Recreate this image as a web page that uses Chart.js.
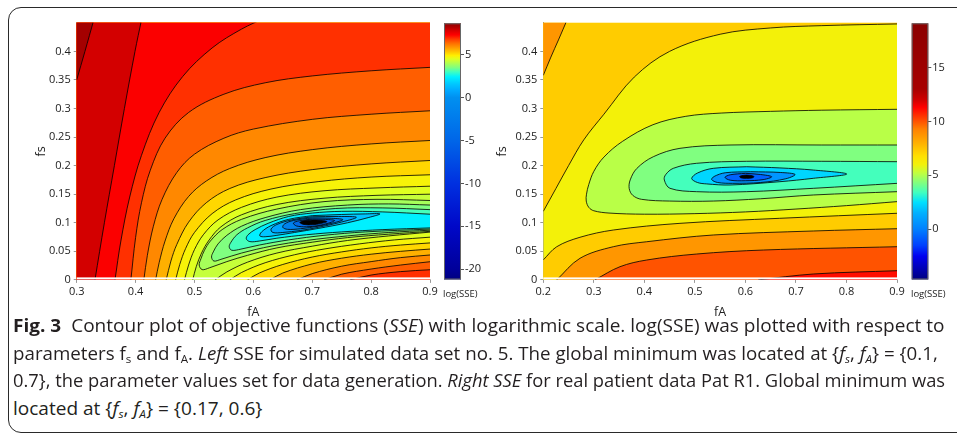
<!DOCTYPE html>
<html>
<head>
<meta charset="utf-8">
<script src="https://cdn.jsdelivr.net/npm/chart.js@4.4.1/dist/chart.umd.min.js"></script>
<style>
  body { margin: 0; background: #fff; width: 957px; height: 433px; overflow: hidden; position: relative; font-family: "Open Sans", sans-serif; }
  .frame { position: absolute; left: 8px; top: 7px; width: 1000px; height: 426px; border: 1.3px solid #2a2a2a; border-radius: 13px 0 0 13px; box-sizing: border-box; }
  canvas { position: absolute; top: 0; }
  .cbt { position: absolute; font-size: 9.5px; color: #222; white-space: nowrap; }
  .cap { position: absolute; left: 13px; white-space: nowrap; font-size: 18.5px; line-height: 27.5px; color: #231f20; transform-origin: 0 0; }
  .cap sub { font-size: 0.62em; vertical-align: -0.28em; line-height: 0; }
</style>
</head>
<body>
<div class="frame"></div>
<canvas id="leftPlot" width="440" height="320" style="left:0"></canvas>
<canvas id="leftBar" width="50" height="290" style="left:440px"></canvas>
<canvas id="rightPlot" width="440" height="320" style="left:480px"></canvas>
<canvas id="rightBar" width="52" height="290" style="left:905px"></canvas>
<div class="cbt" style="left:443px;top:287px">log(SSE)</div>
<div class="cbt" style="left:911px;top:287px">log(SSE)</div>
<div class="cap" data-w="932" style="top:311px"><b>Fig. 3</b>&nbsp; Contour plot of objective functions (<i>SSE</i>) with logarithmic scale. log(SSE) was plotted with respect to</div>
<div class="cap" data-w="925" style="top:338.5px">parameters f<sub>s</sub> and f<sub>A</sub>. <i>Left</i> SSE for simulated data set no. 5. The global minimum was located at {<i>f<sub>s</sub></i>, <i>f<sub>A</sub></i>} = {0.1,</div>
<div class="cap" data-w="932" style="top:366px">0.7}, the parameter values set for data generation. <i>Right SSE</i> for real patient data Pat R1. Global minimum was</div>
<div class="cap" data-w="249" style="top:393.5px">located at {<i>f<sub>s</sub></i>, <i>f<sub>A</sub></i>} = {0.17, 0.6}</div>
<script>
'use strict';

// axis ticks
const leftXTicks = [0.3, 0.4, 0.5, 0.6, 0.7, 0.8, 0.9];
const rightXTicks = [0.2, 0.3, 0.4, 0.5, 0.6, 0.7, 0.8, 0.9];
const fsTicks = [0, 0.05, 0.1, 0.15, 0.2, 0.25, 0.3, 0.35, 0.4];
const leftBarTicks = [-20, -15, -10, -5, 0, 5];
const rightBarTicks = [0, 5, 10, 15];

// colour scales, [log(SSE), colour]
const leftColormap = [[-21.2,'#000080'],[-20,'#00009a'],[-15,'#0008c8'],[-10,'#0030e0'],[-5,'#0066e8'],[0,'#0090f0'],[0.8,'#00a8ff'],[1.6,'#00c8ff'],[2.4,'#00f0ff'],[3.0,'#40ffc0'],[3.5,'#80ff80'],[4.0,'#b0ff50'],[4.5,'#e0ff20'],[4.9,'#ffef00'],[5.3,'#ffc800'],[5.8,'#ff9c00'],[6.3,'#ff7000'],[6.8,'#ff3c00'],[7.3,'#ff0000'],[7.8,'#d80000'],[8.2,'#b00000'],[8.65,'#900000']];
const rightColormap = [[-4.66,'#000080'],[-2.5,'#0000f0'],[-1.5,'#0040ff'],[0,'#0080ff'],[1.5,'#00b0ff'],[2.5,'#00e0ff'],[3.4,'#40ffc0'],[4.3,'#80ff80'],[5.2,'#c0ff40'],[6.0,'#f2f20a'],[6.8,'#ffe000'],[8.0,'#ffb000'],[9.3,'#ff8000'],[10.3,'#ff4000'],[11.3,'#ff0000'],[12.0,'#d00000'],[13.0,'#a80000'],[19.1,'#8b0000']];

// left panel contour lines, [fA, fs]
const leftA = [[0.3,0.35],[0.314,0.40],[0.329,0.455]];
const leftB = [[0.331,0],[0.347,0.1],[0.364,0.2],[0.381,0.3],[0.399,0.4],[0.41,0.455]];
const leftC = [[0.365,0],[0.375,0.068],[0.39,0.145],[0.41,0.218],[0.44,0.293],[0.48,0.356],[0.53,0.406],[0.58,0.439],[0.62,0.4585]];
const leftD = [[0.392,0],[0.40,0.074],[0.41,0.135],[0.425,0.192],[0.45,0.248],[0.49,0.293],[0.55,0.325],[0.62,0.345],[0.7,0.357],[0.8,0.366],[0.9,0.372]];
const leftE = [[0.414,0],[0.42,0.043],[0.43,0.093],[0.445,0.141],[0.47,0.188],[0.5,0.22],[0.55,0.248],[0.6,0.264],[0.7,0.281],[0.8,0.29],[0.9,0.296]];
const leftF = [[0.434,0],[0.44,0.03],[0.45,0.068],[0.465,0.107],[0.49,0.146],[0.52,0.173],[0.56,0.195],[0.62,0.214],[0.7,0.228],[0.8,0.238],[0.9,0.244]];
const leftG = [[0.452,0],[0.46,0.033],[0.47,0.062],[0.49,0.101],[0.52,0.135],[0.56,0.16],[0.62,0.179],[0.7,0.193],[0.8,0.203],[0.9,0.209]];
const leftH = [[0.468,0],[0.475,0.027],[0.485,0.055],[0.5,0.083],[0.53,0.116],[0.57,0.14],[0.63,0.159],[0.71,0.172],[0.8,0.18],[0.9,0.184]];
const leftI = [[0.483,0],[0.49,0.026],[0.5,0.053],[0.515,0.079],[0.54,0.105],[0.58,0.127],[0.64,0.145],[0.72,0.156],[0.81,0.161],[0.9,0.164]];
const leftJ = [[0.497,0],[0.503,0.023],[0.512,0.047],[0.525,0.07],[0.545,0.093],[0.58,0.114],[0.64,0.132],[0.72,0.143],[0.81,0.148],[0.9,0.15]];
const leftJb = [[0.535,0],[0.555,0.014],[0.59,0.031],[0.64,0.047],[0.7,0.059],[0.76,0.069],[0.83,0.077],[0.9,0.0836]];
const leftIb = [[0.56,0],[0.58,0.013],[0.62,0.03],[0.67,0.044],[0.72,0.054],[0.78,0.063],[0.84,0.07],[0.9,0.0748]];
const leftHb = [[0.59,0],[0.61,0.012],[0.65,0.027],[0.7,0.04],[0.75,0.049],[0.8,0.056],[0.85,0.061],[0.9,0.0647]];
const leftGb = [[0.628,0],[0.65,0.012],[0.7,0.028],[0.75,0.038],[0.8,0.045],[0.85,0.05],[0.9,0.054]];
const leftFb = [[0.674,0],[0.7,0.011],[0.75,0.024],[0.8,0.032],[0.85,0.039],[0.9,0.0436]];
const leftEb = [[0.72,0],[0.75,0.01],[0.8,0.019],[0.85,0.026],[0.9,0.0318]];
const leftDb = [[0.764,0],[0.8,0.0085],[0.85,0.0145],[0.9,0.0178]];
const leftK = [[0.9,0.139],[0.81,0.141],[0.72,0.137],[0.64,0.124],[0.58,0.106],[0.547,0.088],[0.527,0.068],[0.517,0.052],[0.511,0.037],[0.508,0.026],[0.513,0.018],[0.525,0.021],[0.555,0.032],[0.59,0.043],[0.64,0.056],[0.7,0.066],[0.76,0.074],[0.83,0.08],[0.9,0.085]];
const leftL = [[0.9,0.131],[0.83,0.133],[0.76,0.131],[0.68,0.123],[0.62,0.109],[0.58,0.094],[0.555,0.078],[0.54,0.063],[0.532,0.049],[0.529,0.04],[0.533,0.033],[0.545,0.036],[0.58,0.047],[0.63,0.059],[0.69,0.069],[0.76,0.077],[0.83,0.083],[0.9,0.087]];
const leftM = [[0.9,0.123],[0.82,0.126],[0.74,0.125],[0.67,0.116],[0.62,0.104],[0.59,0.091],[0.572,0.079],[0.562,0.066],[0.559,0.058],[0.563,0.052],[0.575,0.053],[0.61,0.061],[0.66,0.07],[0.72,0.078],[0.79,0.084],[0.9,0.089]];
const leftN = [[0.9,0.115],[0.82,0.119],[0.75,0.12],[0.70,0.117],[0.66,0.111],[0.625,0.099],[0.603,0.088],[0.591,0.079],[0.588,0.072],[0.594,0.067],[0.61,0.068],[0.64,0.073],[0.69,0.079],[0.75,0.084],[0.82,0.088],[0.9,0.091]];
const leftO = [[0.70,0.1125],[0.66,0.106],[0.63,0.095],[0.614,0.084],[0.611,0.077],[0.62,0.0755],[0.64,0.078],[0.67,0.083],[0.71,0.09],[0.76,0.1],[0.795,0.109],[0.815,0.1155],[0.79,0.1155],[0.75,0.1145],[0.70,0.1125]];
const leftP = [[0.70,0.1105],[0.665,0.105],[0.64,0.097],[0.63,0.089],[0.633,0.083],[0.65,0.083],[0.68,0.0865],[0.71,0.092],[0.745,0.1],[0.775,0.1095],[0.745,0.111],[0.70,0.1105]];
const leftQ = [[0.70,0.1085],[0.668,0.104],[0.653,0.098],[0.65,0.092],[0.658,0.0885],[0.68,0.0895],[0.71,0.094],[0.735,0.0995],[0.752,0.1055],[0.73,0.108],[0.70,0.1085]];
const leftR = [[0.70,0.1065],[0.678,0.1035],[0.668,0.0995],[0.673,0.0945],[0.69,0.093],[0.71,0.095],[0.728,0.0995],[0.738,0.104],[0.72,0.106],[0.70,0.1065]];
const leftCore = [[0.70,0.105],[0.686,0.1035],[0.679,0.1005],[0.686,0.097],[0.70,0.0965],[0.714,0.0985],[0.725,0.102],[0.714,0.1045],[0.70,0.105]];

// right panel contour lines, [fA, fs]
const rightR1 = [[0.2,0.358],[0.215,0.39],[0.23,0.42],[0.247,0.455]];
const rightR2 = [[0.2,0.12],[0.225,0.16],[0.25,0.2],[0.28,0.245],[0.32,0.29],[0.38,0.355],[0.45,0.4],[0.55,0.43],[0.65,0.441],[0.75,0.445],[0.9,0.448]];
const rightY1 = [[0.2,0.035],[0.2265,0.058],[0.2726,0.0746],[0.3385,0.0873],[0.4705,0.099],[0.668,0.1078],[0.9,0.1166]];
const rightY2 = [[0.2265,0],[0.2726,0.0378],[0.3385,0.0581],[0.4046,0.0668],[0.5364,0.0786],[0.7343,0.0856],[0.9,0.0896]];
const rightY3 = [[0.302,0],[0.3518,0.0231],[0.4046,0.0348],[0.5035,0.0453],[0.6354,0.0523],[0.9,0.0581]];
const rightY4 = [[0.6254,0],[0.7343,0.0103],[0.9,0.0161]];
const rightR3 = [[0.9,0.2986],[0.75,0.297],[0.65,0.295],[0.552,0.292],[0.482,0.2863],[0.417,0.2716],[0.357,0.2426],[0.32,0.215],[0.30,0.19],[0.29,0.167],[0.2855,0.15],[0.285,0.138],[0.29,0.127],[0.30,0.121],[0.33,0.117],[0.40,0.115],[0.5,0.116],[0.6,0.119],[0.7,0.124],[0.8,0.13],[0.9,0.137]];
const rightR4 = [[0.9,0.2361],[0.75,0.2361],[0.5695,0.2361],[0.4705,0.2303],[0.4177,0.2156],[0.385,0.195],[0.372,0.175],[0.37,0.16],[0.377,0.148],[0.3946,0.141],[0.45,0.138],[0.5364,0.138],[0.63,0.142],[0.7343,0.1486],[0.9,0.1544]];
const rightR5 = [[0.9,0.2069],[0.75,0.2076],[0.6025,0.2076],[0.5035,0.2041],[0.4573,0.1953],[0.442,0.184],[0.4395,0.1748],[0.4507,0.1603],[0.5035,0.1544],[0.6025,0.1544],[0.7343,0.1603],[0.9,0.169]];
const rightR6 = [[0.6025,0.1981],[0.5364,0.1953],[0.505,0.187],[0.4937,0.1775],[0.505,0.1705],[0.5233,0.168],[0.5694,0.1661],[0.6683,0.1719],[0.7343,0.1778],[0.8005,0.1853],[0.7343,0.1923],[0.6683,0.196],[0.6025,0.1981]];
const rightR7 = [[0.61,0.1894],[0.56,0.1875],[0.538,0.181],[0.5333,0.1755],[0.545,0.1705],[0.575,0.169],[0.63,0.1705],[0.68,0.177],[0.6982,0.1845],[0.67,0.188],[0.61,0.1894]];
const rightR8 = [[0.60,0.1865],[0.57,0.184],[0.5596,0.1795],[0.57,0.1745],[0.60,0.1735],[0.635,0.1755],[0.652,0.1805],[0.63,0.1845],[0.60,0.1865]];
const rightCore = [[0.6025,0.1835],[0.592,0.1825],[0.5885,0.1806],[0.592,0.1785],[0.6025,0.1778],[0.613,0.1785],[0.617,0.1806],[0.613,0.1825],[0.6025,0.1835]];

// which side of each line is higher; levels are log(SSE)
const leftContours = [
  {pts: leftA, level: 8.1, side: 'upper'}, {pts: leftB, level: 7.6, side: 'upper'},
  {pts: leftC, level: 7.1, side: 'upper'}, {pts: leftD, level: 6.7, side: 'upper'},
  {pts: leftE, level: 6.25, side: 'upper'}, {pts: leftF, level: 5.8, side: 'upper'},
  {pts: leftG, level: 5.35, side: 'upper'}, {pts: leftH, level: 4.95, side: 'upper'},
  {pts: leftI, level: 4.65, side: 'upper'}, {pts: leftJ, level: 4.35, side: 'upper'},
  {pts: leftDb, level: 6.7, side: 'lower'}, {pts: leftEb, level: 6.25, side: 'lower'},
  {pts: leftFb, level: 5.8, side: 'lower'}, {pts: leftGb, level: 5.35, side: 'lower'},
  {pts: leftHb, level: 4.95, side: 'lower'}, {pts: leftIb, level: 4.65, side: 'lower'},
  {pts: leftJb, level: 4.35, side: 'lower'},
  {pts: leftK, level: 4.1, side: 'inside'}, {pts: leftL, level: 3.7, side: 'inside'},
  {pts: leftM, level: 3.3, side: 'inside'}, {pts: leftN, level: 2.8, side: 'inside'},
  {pts: leftO, level: 2.0, side: 'inside'}, {pts: leftP, level: 1.0, side: 'inside'},
  {pts: leftQ, level: 0.4, side: 'inside'}, {pts: leftR, level: -4, side: 'inside'},
  {pts: leftCore, level: -21, side: 'core'}
];
const rightContours = [
  {pts: rightR1, level: 8.0, side: 'upper'}, {pts: rightR2, level: 6.6, side: 'upper'},
  {pts: rightY1, level: 6.6, side: 'lower'}, {pts: rightY2, level: 8.0, side: 'lower'},
  {pts: rightY3, level: 9.4, side: 'lower'}, {pts: rightY4, level: 10.6, side: 'lower'},
  {pts: rightR3, level: 5.5, side: 'inside'}, {pts: rightR4, level: 4.7, side: 'inside'},
  {pts: rightR5, level: 3.9, side: 'inside'}, {pts: rightR6, level: 3.0, side: 'inside'},
  {pts: rightR7, level: 1.6, side: 'inside'}, {pts: rightR8, level: -0.2, side: 'inside'},
  {pts: rightCore, level: -4, side: 'core'}
];

Chart.defaults.font.family = '"Open Sans", sans-serif';
Chart.defaults.color = '#222';

function hexToRgb(h) {
  const n = parseInt(h.slice(1), 16);
  return [n >> 16, (n >> 8) & 255, n & 255];
}

function colorAt(map, v) {
  if (v <= map[0][0]) return map[0][1];
  for (let i = 1; i < map.length; i++) {
    if (v <= map[i][0]) {
      const t = (v - map[i - 1][0]) / (map[i][0] - map[i - 1][0]);
      const a = hexToRgb(map[i - 1][1]), b = hexToRgb(map[i][1]);
      return 'rgb(' + a.map((c, k) => Math.round(c + (b[k] - c) * t)).join(',') + ')';
    }
  }
  return map[map.length - 1][1];
}

// build the filled bands: painted high sides first (lowest level first), then the nested insides
function buildRegions(contours, cmap, cap, box) {
  const levels = [...new Set(contours.filter(c => c.side !== 'core').map(c => c.level))].sort((a, b) => a - b);
  const above = l => { const i = levels.indexOf(l); return i < levels.length - 1 ? levels[i + 1] : cap; };
  const below = l => { const i = levels.indexOf(l); return i > 0 ? levels[i - 1] : l - 1; };
  const d = 0.01, eps = 1e-6;
  const {xMin, xMax, yMin, yMax} = box;
  const outer = [], inner = [];

  contours.forEach((c, index) => {
    const s = c.pts[0], e = c.pts[c.pts.length - 1];
    const onRight = e[0] >= xMax - eps;
    const corners = [];
    if (c.side === 'upper') {
      if (onRight) corners.push([xMax + d, e[1]], [xMax + d, yMax + d]);
      else corners.push([e[0], yMax + d]);
      corners.push([xMin - d, yMax + d]);
      if (s[1] <= yMin + eps) corners.push([xMin - d, yMin - d], [s[0], yMin - d]);
      else corners.push([xMin - d, s[1]]);
      outer.push({index, corners, level: c.level, color: colorAt(cmap, (c.level + above(c.level)) / 2)});
    } else if (c.side === 'lower') {
      corners.push([xMax + d, e[1]], [xMax + d, yMin - d]);
      if (s[1] <= yMin + eps) corners.push([s[0], yMin - d]);
      else corners.push([xMin - d, yMin - d], [xMin - d, s[1]]);
      outer.push({index, corners, level: c.level, color: colorAt(cmap, (c.level + above(c.level)) / 2)});
    } else {
      if (onRight && s[0] >= xMax - eps) corners.push([xMax + d, e[1]], [xMax + d, s[1]]);
      const color = c.side === 'core' ? '#000' : colorAt(cmap, (c.level + below(c.level)) / 2);
      inner.push({index, corners, level: c.level, color});
    }
  });
  outer.sort((a, b) => a.level - b.level);
  inner.sort((a, b) => b.level - a.level);

  const insideTop = Math.max(...contours.filter(c => c.side === 'inside').map(c => c.level));
  const outerLow = Math.min(...contours.filter(c => c.side === 'upper' || c.side === 'lower').map(c => c.level));
  return {background: colorAt(cmap, (insideTop + outerLow) / 2), regions: outer.concat(inner)};
}

function contourFillPlugin(fills) {
  return {
    id: 'contourFill',
    beforeDatasetsDraw(chart) {
      const {ctx, chartArea: a, scales: {x, y}} = chart;
      ctx.save();
      ctx.beginPath();
      ctx.rect(a.left, a.top, a.width, a.height);
      ctx.clip();
      ctx.fillStyle = fills.background;
      ctx.fillRect(a.left, a.top, a.width, a.height);
      for (const r of fills.regions) {
        const line = chart.getDatasetMeta(r.index).dataset;
        line.updateControlPoints(a, 'x');
        ctx.beginPath();
        line.path(ctx);
        for (const [cx, cy] of r.corners) ctx.lineTo(x.getPixelForValue(cx), y.getPixelForValue(cy));
        ctx.closePath();
        ctx.fillStyle = r.color;
        ctx.fill();
      }
      ctx.restore();
    },
    afterDatasetsDraw(chart) {
      // thin white strip between the image and the bottom axis
      const {ctx, chartArea: a} = chart;
      ctx.save();
      ctx.fillStyle = '#fff';
      ctx.fillRect(a.left, a.bottom - 2.5, a.width + 1, 2);
      ctx.restore();
    }
  };
}

function drawContourPlot(id, contours, cmap, cap, xTicks, xRange, pad, yWidth) {
  const box = {xMin: xRange[0], xMax: xRange[1], yMin: 0, yMax: 0.45};
  const fills = buildRegions(contours, cmap, cap, box);
  const tickFont = {size: 11};
  new Chart(document.getElementById(id), {
    type: 'line',
    data: {
      datasets: contours.map(c => ({
        data: c.pts.map(([x, y]) => ({x, y})),
        borderColor: 'rgba(0,0,0,0.9)',
        borderWidth: 0.9,
        pointRadius: 0,
        tension: 0.35,
        fill: false
      }))
    },
    options: {
      responsive: false,
      animation: false,
      devicePixelRatio: 1,
      events: [],
      layout: {padding: pad},
      plugins: {legend: {display: false}, tooltip: {enabled: false}},
      scales: {
        x: {
          type: 'linear', min: xRange[0], max: xRange[1], z: 1,
          afterBuildTicks: s => { s.ticks = xTicks.map(v => ({value: v})); },
          afterFit: s => { s.height = 40.1; },
          ticks: {callback: v => String(v), font: tickFont, padding: 2, maxRotation: 0, autoSkip: false},
          grid: {drawOnChartArea: false, tickLength: 3, color: '#999'},
          border: {color: '#999'},
          title: {display: true, text: 'fA', font: {size: 12.5}, padding: {top: 0, bottom: 0}}
        },
        y: {
          type: 'linear', min: 0, max: 0.45, z: 1,
          afterBuildTicks: s => { s.ticks = fsTicks.map(v => ({value: v})); },
          afterFit: s => { s.width = yWidth; },
          ticks: {callback: v => String(v), font: tickFont, padding: 3, autoSkip: false},
          grid: {drawOnChartArea: false, tickLength: 3, color: '#999'},
          border: {color: '#999'},
          title: {display: true, text: 'fs', font: {size: 12.5}, padding: {top: 2, bottom: 0}}
        }
      }
    },
    plugins: [contourFillPlugin(fills)]
  });
}

function colorbarPlugin(cmap) {
  return {
    id: 'colorbar',
    beforeDatasetsDraw(chart) {
      const {ctx, chartArea: a, scales: {y}} = chart;
      const lo = cmap[0][0], hi = cmap[cmap.length - 1][0];
      const g = ctx.createLinearGradient(0, y.getPixelForValue(lo), 0, y.getPixelForValue(hi));
      cmap.forEach(([v, c]) => g.addColorStop((v - lo) / (hi - lo), c));
      ctx.save();
      ctx.fillStyle = g;
      ctx.fillRect(a.left, a.top, a.width, a.height);
      ctx.strokeStyle = '#666';
      ctx.lineWidth = 1;
      ctx.strokeRect(a.left + 0.5, a.top + 0.5, a.width - 1, a.height - 1);
      ctx.restore();
    }
  };
}

function drawColorbar(id, cmap, ticks, pad, yWidth) {
  new Chart(document.getElementById(id), {
    type: 'line',
    data: {datasets: []},
    options: {
      responsive: false,
      animation: false,
      devicePixelRatio: 1,
      events: [],
      layout: {padding: pad},
      plugins: {legend: {display: false}, tooltip: {enabled: false}},
      scales: {
        x: {type: 'linear', display: false, min: 0, max: 1},
        y: {
          type: 'linear', position: 'right', min: cmap[0][0], max: cmap[cmap.length - 1][0],
          afterBuildTicks: s => { s.ticks = ticks.map(v => ({value: v})); },
          afterFit: s => { s.width = yWidth; },
          ticks: {callback: v => String(v), font: {size: 11}, padding: 1},
          grid: {drawOnChartArea: false, tickLength: 3, color: '#555'},
          border: {display: false}
        }
      }
    },
    plugins: [colorbarPlugin(cmap)]
  });
}

drawContourPlot('leftPlot', leftContours, leftColormap, 8.65, leftXTicks, [0.3, 0.9],
  {left: 32, top: 22.8, right: 10, bottom: 0}, 44.7);
drawContourPlot('rightPlot', rightContours, rightColormap, 11.6, rightXTicks, [0.2, 0.9],
  {left: 13, top: 22.8, right: 23, bottom: 0}, 50.3);
drawColorbar('leftBar', leftColormap, leftBarTicks, {left: 4, top: 23.3, right: 0, bottom: 10.5}, 29);
drawColorbar('rightBar', rightColormap, rightBarTicks, {left: 6.7, top: 23.3, right: 0, bottom: 10.5}, 28.7);

// each caption line is set to the width it has in the original layout
document.querySelectorAll('.cap').forEach(el => {
  const s = Number(el.dataset.w) / el.scrollWidth;
  el.style.transform = 'scaleX(' + s.toFixed(4) + ')';
});
</script>
</body>
</html>
